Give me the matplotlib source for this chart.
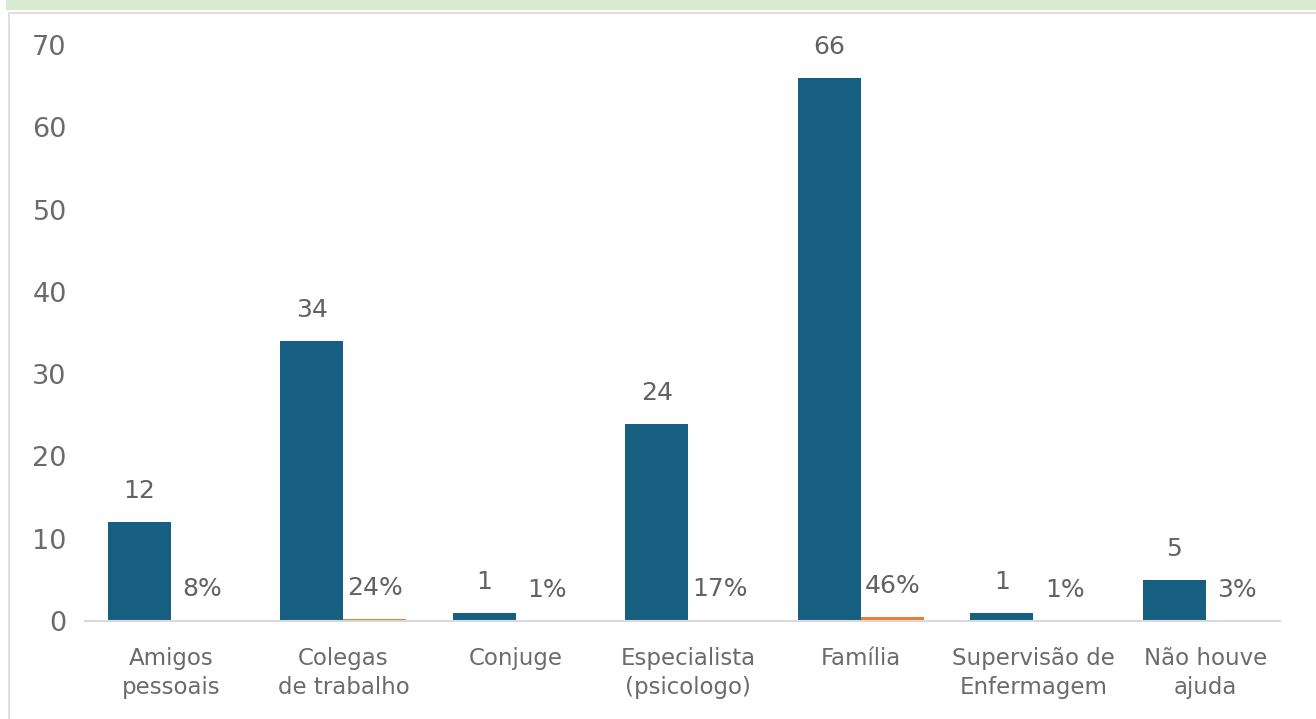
import matplotlib.pyplot as plt
from matplotlib.patches import Rectangle
from matplotlib.lines import Line2D
import numpy as np

categories = ["Amigos\npessoais", "Colegas\nde trabalho", "Conjuge", "Especialista\n(psicologo)",
              "Família", "Supervisão de\nEnfermagem", "Não houve\najuda"]
counts = [12, 34, 1, 24, 66, 1, 5]
shares = [0.08, 0.24, 0.01, 0.17, 0.46, 0.01, 0.03]
yticks = [0, 10, 20, 30, 40, 50, 60, 70]

blue = "#175f80"
orange = "#ed7d31"
gray = "#6b6b6e"

plt.rcParams['font.family'] = ['DejaVu Sans']

W, H = 1316, 719
fig = plt.figure(figsize=(W / 100, H / 100), dpi=100)
ax = fig.add_axes([84.75 / W, 1 - 621 / H, (1292 - 84.75) / W, (621 - 45) / H])

x = np.arange(len(categories))
bw = 0.365
ax.bar(x - bw / 2, counts, bw, color=blue)
ax.bar(x + bw / 2, shares, bw, color=orange)

for xi, c, s in zip(x, counts, shares):
    ax.annotate(str(c), (xi - bw / 2, c), xytext=(0, 31), textcoords='offset pixels',
                ha='center', va='center', fontsize=18, color="#626262")
    ax.annotate(f"{int(round(s * 100))}%", (xi + bw / 2, s), xytext=(0, 31), textcoords='offset pixels',
                ha='center', va='center', fontsize=18, color="#626262")

ax.set_xlim(-0.5, len(categories) - 0.5)
ax.set_ylim(0, 70)
ax.set_yticks(yticks)
ax.set_xticks(x)
ax.set_xticklabels(categories, fontsize=16.5, color=gray, linespacing=1.3)
ax.tick_params(axis='y', length=0, pad=13, labelsize=19.5, labelcolor=gray)
ax.tick_params(axis='x', length=0, pad=19)
for side in ['top', 'right', 'left']:
    ax.spines[side].set_visible(False)
ax.spines['bottom'].set_color('#d9d9d9')
ax.spines['bottom'].set_linewidth(1.5)
ax.spines['bottom'].set_bounds(-0.5, 6.43)

# header band and frame
fig.patches.append(Rectangle((6 / W, 1 - 9 / H), 1, 9 / H, transform=fig.transFigure,
                             color="#d9ead3", zorder=0))
fig.lines.append(Line2D([9 / W, 9 / W, 1], [0, 1 - 12.5 / H, 1 - 12.5 / H], transform=fig.transFigure,
                        color="#dedede", linewidth=1.5))

fig.savefig("out.png", dpi=100)
